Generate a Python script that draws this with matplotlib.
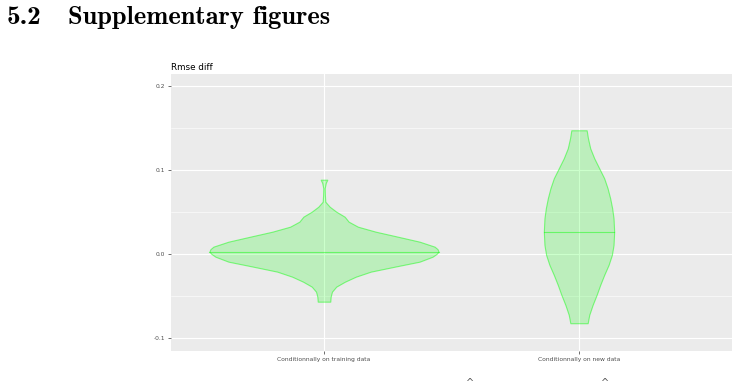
import numpy as np
import matplotlib
matplotlib.use('Agg')
import matplotlib.pyplot as plt

categories = ['Conditionnally on training data', 'Conditionnally on new data']

# violin outlines: level (rmse diff) and half width (category units)
v1_level = [0.0889, 0.0850, 0.0787, 0.0707, 0.0627, 0.0567, 0.0508, 0.0448, 0.0389,
            0.0329, 0.0269, 0.0210, 0.0150, 0.0091, 0.0061, 0.0031, 0.0004, -0.0029,
            -0.0088, -0.0148, -0.0207, -0.0267, -0.0327, -0.0386, -0.0446, -0.0505,
            -0.0565]
v1_half = [0.0129, 0.0070, 0.0027, 0.0035, 0.0051, 0.0223, 0.0480, 0.0809, 0.0965,
           0.1328, 0.2031, 0.2891, 0.3750, 0.4336, 0.4453, 0.4492, 0.4414, 0.4258,
           0.3750, 0.2773, 0.1836, 0.1250, 0.0820, 0.0480, 0.0313, 0.0262,
           0.0246]

v2_level = [0.1478, 0.1383, 0.1263, 0.1144, 0.1025, 0.0906, 0.0787, 0.0667, 0.0548,
            0.0429, 0.0269, 0.0111, -0.0008, -0.0127, -0.0246, -0.0365, -0.0484,
            -0.0603, -0.0722, -0.0822]
v2_half = [0.0301, 0.0352, 0.0441, 0.0598, 0.0793, 0.0988, 0.1121, 0.1223, 0.1301,
           0.1355, 0.1379, 0.1355, 0.1289, 0.1160, 0.0988, 0.0832, 0.0691,
           0.0535, 0.0402, 0.0340]

medians = [0.0031, 0.0262]
median_half = [0.4492, 0.1379]

yticks = [-0.1, 0.0, 0.1, 0.2]
ytick_labels = ['-0.1', '0.0', '0.1', '0.2']


def main():
    fig = plt.figure(figsize=(7.38, 3.89), dpi=100)
    W, H = 738, 389
    ax = fig.add_axes([171 / W, (H - 351) / H, (732 - 171) / W, (351 - 74) / H])
    ax.set_facecolor('#EBEBEB')
    for s in ax.spines.values():
        s.set_visible(False)

    ax.set_xlim(-0.6, 1.6)
    ax.set_ylim(-0.1153, 0.2149)
    ax.set_yticks(yticks)
    ax.set_yticklabels(ytick_labels)
    ax.set_yticks([-0.05, 0.05, 0.15], minor=True)
    ax.set_xticks([0, 1])
    ax.set_xticklabels(categories)
    ax.grid(True, which='major', color='white', linewidth=0.8)
    ax.grid(True, which='minor', axis='y', color='white', linewidth=0.4)
    ax.set_axisbelow(True)
    ax.tick_params(axis='both', which='major', labelsize=4.3, labelcolor='#4D4D4D',
                   color='#333333', length=2, width=0.5, pad=2)
    ax.tick_params(axis='both', which='minor', length=0)

    outlines = [(v1_level, v1_half), (v2_level, v2_half)]
    for i, (lv, hw) in enumerate(outlines):
        lv = np.array(lv)
        hw = np.array(hw)
        ax.fill_betweenx(lv, i - hw, i + hw, facecolor=(0, 1, 0, 0.2),
                         edgecolor=(0, 1, 0, 0.45), linewidth=0.8, zorder=3)
        ax.plot([i - median_half[i], i + median_half[i]], [medians[i], medians[i]],
                color=(0, 1, 0, 0.45), linewidth=0.8, zorder=4)

    fig.text(171 / W, 1 - 67 / H, 'Rmse diff', fontsize=6.3, color='black',
             va='center', ha='left')

    # page header above the figure
    fig.text(7 / W, 1 - 24 / H, '5.2', fontsize=19.5, fontfamily='cmb10',
             va='baseline', ha='left')
    fig.text(68 / W, 1 - 24 / H, 'Supplementary figures', fontsize=19,
             fontfamily='cmb10', va='baseline', ha='left')
    # tops of the next line of text, cut off by the page edge
    for x in [470, 605]:
        fig.text(x / W, 1 - 383 / H, '^', fontsize=7, color='#555555',
                 ha='center', va='center')

    fig.savefig('out.png', dpi=100)


if __name__ == '__main__':
    main()
